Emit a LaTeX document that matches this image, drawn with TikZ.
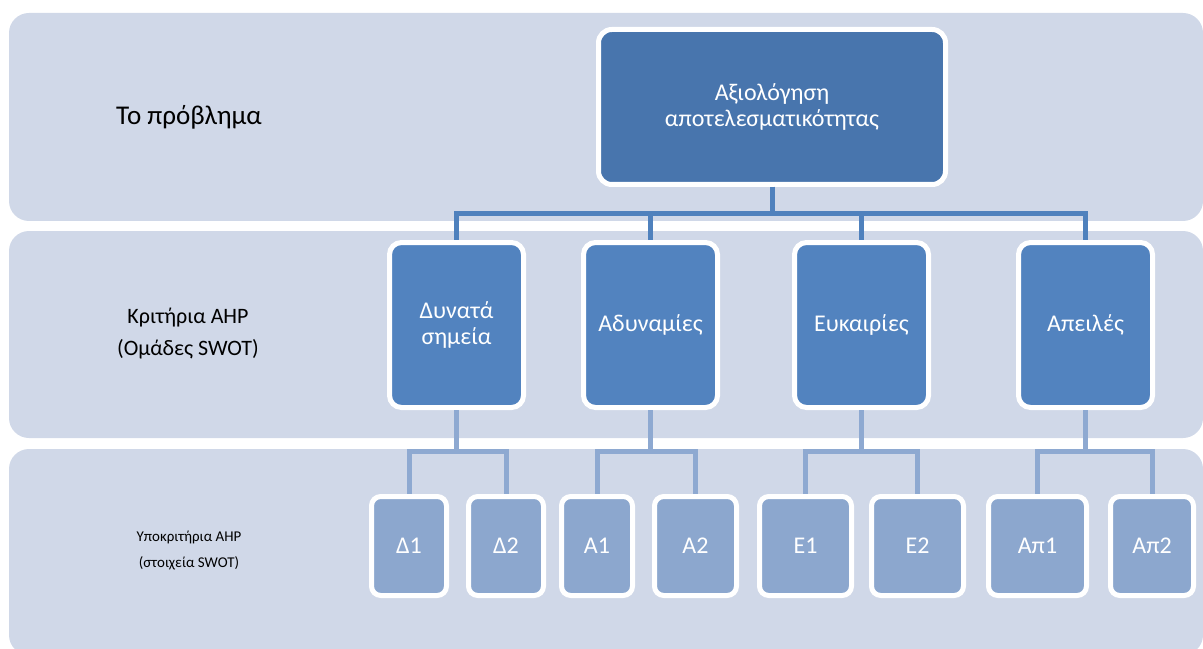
\documentclass[tikz,border=0pt]{standalone}
\usepackage{fontspec}
\setmainfont{Carlito}

\definecolor{bandfill}{RGB}{208,216,232}
\definecolor{topfill}{RGB}{72,117,173}
\definecolor{groupfill}{RGB}{82,131,191}
\definecolor{itemfill}{RGB}{140,167,206}
\definecolor{linkdark}{RGB}{79,129,189}
\definecolor{linklight}{RGB}{142,169,209}

\tikzset{every picture/.style={line width=0.75pt}}
\tikzset{
  band/.style={fill=bandfill, rounded corners=15pt},
  bandlabel/.style={align=center, text=black, inner sep=0pt},
  topbox/.style={draw=white, line width=3.75pt, fill=topfill, rounded corners=10pt,
    text=white, align=center, inner sep=0pt, minimum width=260.25pt, minimum height=116.25pt,
    font=\fontsize{18}{19.5}\selectfont},
  groupbox/.style={draw=white, line width=3.75pt, fill=groupfill, rounded corners=9pt,
    text=white, align=center, inner sep=0pt, minimum width=100.5pt, minimum height=123.75pt,
    font=\fontsize{18}{20}\selectfont},
  itembox/.style={draw=white, line width=3.75pt, fill=itemfill, rounded corners=7pt,
    text=white, align=center, inner sep=0pt, minimum height=74.25pt,
    font=\fontsize{18}{20}\selectfont},
  linktop/.style={draw=linkdark, line width=3.75pt},
  linklow/.style={draw=linklight, line width=3.75pt}
}

\begin{document}
\begin{tikzpicture}[x=0.75pt,y=0.75pt,yscale=-1,xscale=1]
\useasboundingbox (0,0) rectangle (1203,649);

%Bands
\path[band] (9,13) rectangle (1203,221);
\path[band] (9,231) rectangle (1203,438);
\path[band] (9,449) rectangle (1203,655);

%Band labels
\node[bandlabel, font=\fontsize{20.3}{24}\selectfont] (lblprob) at (189,117) {Το πρόβλημα};
\node[bandlabel, font=\fontsize{16.5}{24}\selectfont] (lblcrit) at (188,334) {Κριτήρια AHP\\(Ομάδες SWOT)};
\node[bandlabel, font=\fontsize{11.2}{19.5}\selectfont] (lblsub) at (189,550) {Υποκριτήρια AHP\\(στοιχεία SWOT)};

%Goal
\node[topbox] (goal) at (772,107) {Αξιολόγηση\\αποτελεσματικότητας};

%SWOT groups
\node[groupbox] (ds) at (456.5,325) {Δυνατά\\σημεία};
\node[groupbox] (ad) at (650.5,325) {Αδυναμίες};
\node[groupbox] (eu) at (861.5,325) {Ευκαιρίες};
\node[groupbox] (ap) at (1085.5,325) {Απειλές};

%SWOT items
\node[itembox, minimum width=56.25pt] (d1) at (409,546) {Δ1};
\node[itembox, minimum width=56.25pt] (d2) at (506,546) {Δ2};
\node[itembox, minimum width=53.25pt] (a1) at (597,546) {A1};
\node[itembox, minimum width=61.5pt] (a2) at (695.5,546) {A2};
\node[itembox, minimum width=69pt] (e1) at (805.5,546) {E1};
\node[itembox, minimum width=69pt] (e2) at (917.5,546) {E2};
\node[itembox, minimum width=73.5pt] (p1) at (1037.5,546) {Aπ1};
\node[itembox, minimum width=62.25pt] (p2) at (1152,546) {Aπ2};

%Connectors
\coordinate (busA) at (0,213.5);
\coordinate (busB) at (0,451);
\foreach \g in {ds,ad,eu,ap}
  \draw[linktop] (goal.south) -- (goal.south |- busA) -| (\g.north);
\foreach \g/\i in {ds/d1,ds/d2,ad/a1,ad/a2,eu/e1,eu/e2,ap/p1,ap/p2}
  \draw[linklow] (\g.south) -- (\g.south |- busB) -| (\i.north);

\end{tikzpicture}
\end{document}
